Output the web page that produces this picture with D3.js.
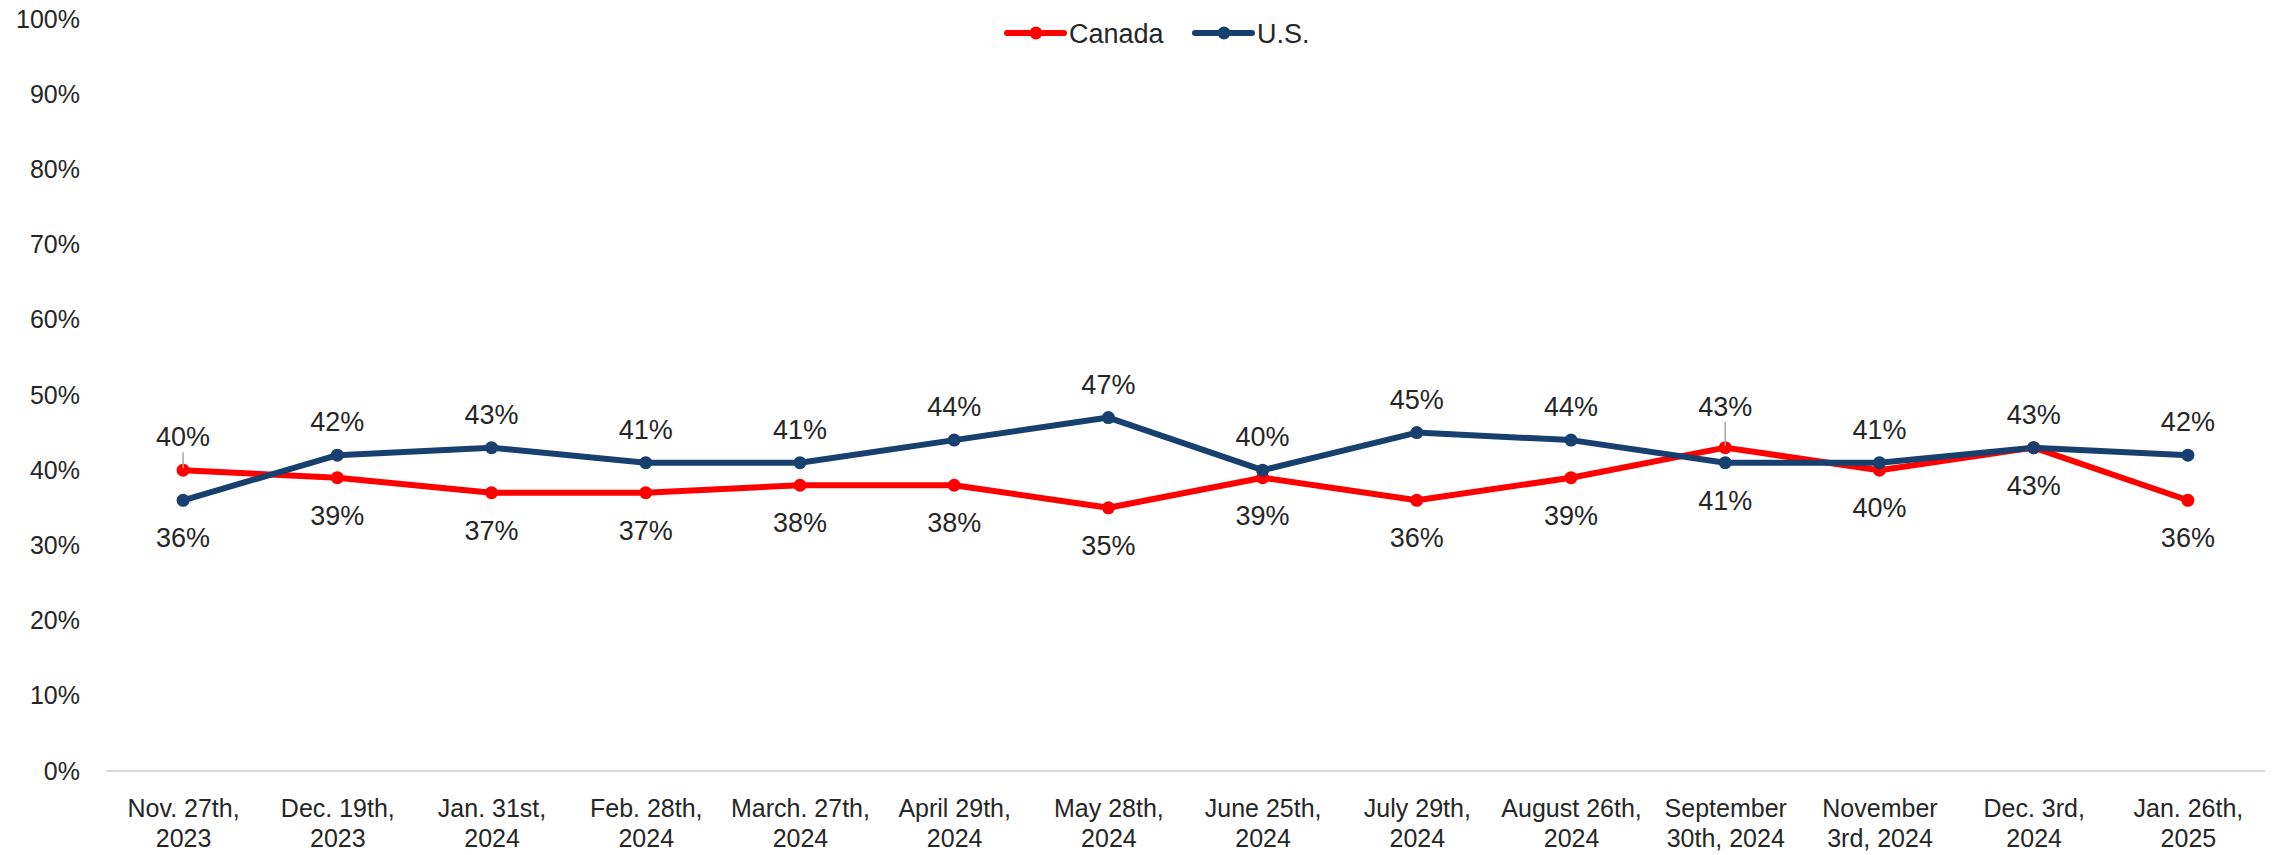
<!DOCTYPE html>
<html>
<head>
<meta charset="utf-8">
<script src="https://cdn.jsdelivr.net/npm/d3@7"></script>
<style>
  html, body { margin: 0; padding: 0; background: #fff; }
  svg { display: block; font-family: "Liberation Sans", Arial, sans-serif; }
</style>
</head>
<body>
<svg id="chart" width="2272" height="855"></svg>
<script>
const categories = [
  "Nov. 27th,|2023", "Dec. 19th,|2023", "Jan. 31st,|2024", "Feb. 28th,|2024",
  "March. 27th,|2024", "April 29th,|2024", "May 28th,|2024", "June 25th,|2024",
  "July 29th,|2024", "August 26th,|2024", "September|30th, 2024", "November|3rd, 2024",
  "Dec. 3rd,|2024", "Jan. 26th,|2025"
];
const canada = [0.40, 0.39, 0.37, 0.37, 0.38, 0.38, 0.35, 0.39, 0.36, 0.39, 0.43, 0.40, 0.43, 0.36];
const us     = [0.36, 0.42, 0.43, 0.41, 0.41, 0.44, 0.47, 0.40, 0.45, 0.44, 0.41, 0.41, 0.43, 0.42];
const yTicks = [0, 0.1, 0.2, 0.3, 0.4, 0.5, 0.6, 0.7, 0.8, 0.9, 1.0];
const seriesNames = ["Canada", "U.S."];
const seriesColors = ["#FF0000", "#17406F"];

const textColor = "#262626";
const svg = d3.select("#chart");
const plotLeft = 106, plotRight = 2265, plotTop = 19, plotBottom = 771;

const x = d3.scalePoint().domain(d3.range(categories.length)).range([plotLeft, plotRight]).padding(0.5);
const y = d3.scaleLinear().domain([0, 1]).range([plotBottom, plotTop]);

// Y axis labels
const yAxis = svg.append("g").attr("transform", `translate(${plotLeft},0)`)
  .call(d3.axisLeft(y).tickValues(yTicks).tickFormat(d3.format(".0%")).tickSize(0).tickPadding(26));
yAxis.select(".domain").remove();
yAxis.selectAll("text").attr("fill", textColor).style("font-size", "25px")
  .style("font-family", "'Liberation Sans', Arial, sans-serif");

// X axis
const xAxis = svg.append("g").attr("transform", `translate(0,${plotBottom})`)
  .call(d3.axisBottom(x).tickSize(0).tickFormat(""));
xAxis.select(".domain").attr("stroke", "#d9d9d9").attr("stroke-width", 2)
  .attr("d", `M${plotLeft},0H${plotRight}`);
xAxis.selectAll(".tick").each(function(d) {
  const t = d3.select(this).select("text")
    .attr("fill", textColor).attr("y", 0).attr("dy", null)
    .style("font-size", "25px").style("font-family", "'Liberation Sans', Arial, sans-serif");
  t.text(null);
  categories[d].split("|").forEach((line, i) => {
    t.append("tspan").attr("x", 0).attr("y", 46 + i * 30).text(line);
  });
});

// Lines
const all = [canada, us];
const line = d3.line().x((d, i) => x(i)).y(d => y(d));
all.forEach((vals, s) => {
  svg.append("path").datum(vals).attr("d", line)
    .attr("fill", "none").attr("stroke", seriesColors[s]).attr("stroke-width", 6)
    .attr("stroke-linejoin", "round");
});
all.forEach((vals, s) => {
  svg.append("g").selectAll("circle").data(vals).join("circle")
    .attr("cx", (d, i) => x(i)).attr("cy", d => y(d)).attr("r", 6.5)
    .attr("fill", seriesColors[s]);
});

// Data labels
const fmt = d3.format(".0%");
all.forEach((vals, s) => {
  const other = all[1 - s];
  vals.forEach((v, i) => {
    const above = s === 1 ? v >= other[i] : v > other[i];
    const lead = s === 0 && above;
    const cx = x(i), cy = y(v);
    const by = above ? cy - (lead ? (i === 0 ? 24 : 32) : 24) : cy + 47;
    svg.append("text").attr("x", cx).attr("y", by).attr("text-anchor", "middle")
      .attr("fill", textColor).style("font-size", "27px").text(fmt(v));
    if (lead) {
      svg.append("line").attr("x1", cx).attr("x2", cx)
        .attr("y1", by + 6).attr("y2", cy - 2)
        .attr("stroke", "#a6a6a6").attr("stroke-width", 1.5);
    }
  });
});

// Legend
const legend = svg.append("g");
const legendX = [1007, 1195];
seriesNames.forEach((name, s) => {
  const g = legend.append("g").attr("transform", `translate(${legendX[s]},33)`);
  g.append("line").attr("x1", 0).attr("x2", 57).attr("y1", 0).attr("y2", 0)
    .attr("stroke", seriesColors[s]).attr("stroke-width", 6).attr("stroke-linecap", "round");
  g.append("circle").attr("cx", 29).attr("cy", 0).attr("r", 6.5).attr("fill", seriesColors[s]);
  g.append("text").attr("x", 62).attr("y", 10).attr("fill", textColor)
    .style("font-size", "27px").text(name);
});
</script>
</body>
</html>
